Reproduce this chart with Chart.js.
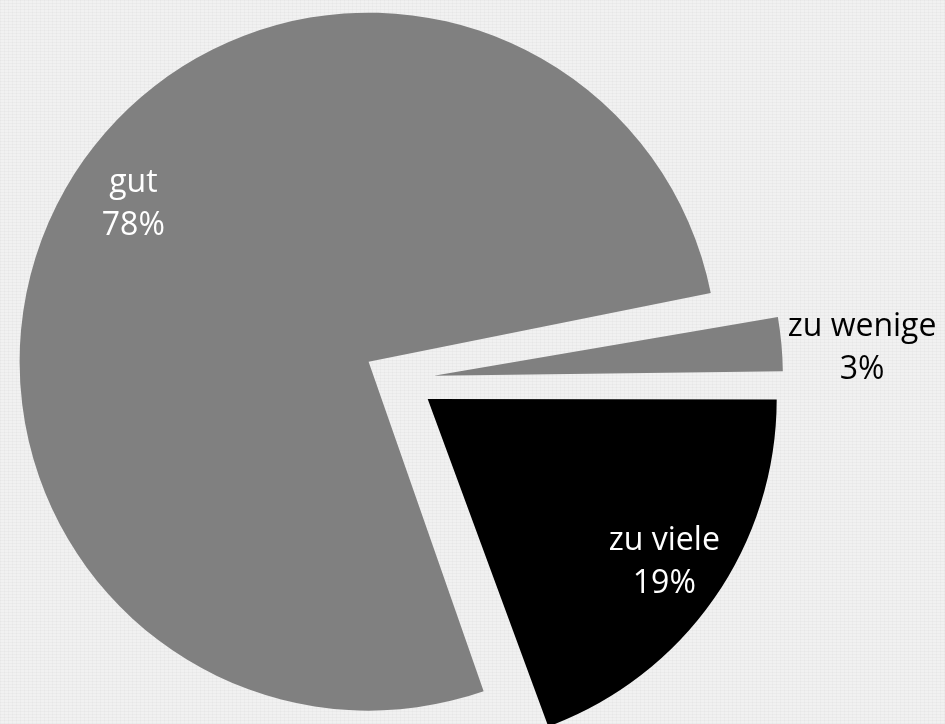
<!DOCTYPE html>
<html>
<head>
<meta charset="utf-8">
<script src="https://cdn.jsdelivr.net/npm/chart.js@4.4.1/dist/chart.umd.min.js"></script>
<style>
  html,body{margin:0;padding:0;}
  body{
    width:945px;height:724px;overflow:hidden;
    background-color:#f1f1f1;
    background-image:
      repeating-linear-gradient(0deg, rgba(0,0,0,0.025) 0 1px, transparent 1px 3px),
      repeating-linear-gradient(90deg, rgba(0,0,0,0.02) 0 1px, transparent 1px 4px);
  }
  #wrap{position:relative;width:945px;height:724px;}
</style>
</head>
<body>
<div id="wrap"><canvas id="pie"></canvas></div>
<script>
// data (share in %, labels are rounded)
const categories = ['zu viele', 'gut', 'zu wenige'];
const shares = [19.4, 77.7, 2.9];
const sliceColors = ['#000000', '#808080', '#808080'];
const labelColors = ['#ffffff', '#ffffff', '#000000'];

const pieRadius = 349;
const explode = 140; // chart.js v4 moves a slice by offset/4

// v4 also grows a slice's radius with its offset; undo that so all slices keep the same size
const explodeFix = {
  id: 'explodeFix',
  afterDatasetUpdate(chart, args){
    args.meta.data.forEach(arc => {
      const shift = (arc.options.offset || 0) / 4;
      const fix = 1 - Math.sin(Math.min(Math.PI, arc.circumference));
      arc.outerRadius = pieRadius - shift * fix;
    });
  }
};

// name + percent label on each slice
const sliceLabels = {
  id: 'sliceLabels',
  afterDatasetsDraw(chart, args, opts){
    const ctx = chart.ctx;
    const meta = chart.getDatasetMeta(0);
    const total = shares.reduce((a,b)=>a+b,0);
    ctx.save();
    ctx.font = '32px "Open Sans"';
    ctx.textAlign = 'center';
    ctx.textBaseline = 'alphabetic';
    meta.data.forEach((arc, i) => {
      const mid = (arc.startAngle + arc.endAngle) / 2;
      const shift = (arc.options.offset || 0) / 4;
      const ax = arc.x + Math.cos(mid) * shift, ay = arc.y + Math.sin(mid) * shift;
      const ang = mid + opts.turn[i] * Math.PI / 180;
      const d = pieRadius * opts.dist[i];
      const x = ax + Math.cos(ang) * d, y = ay + Math.sin(ang) * d;
      ctx.fillStyle = labelColors[i];
      ctx.fillText(categories[i], x, y - 10);
      ctx.fillText(Math.round(shares[i] / total * 100) + '%', x, y + 33);
    });
    ctx.restore();
  }
};

new Chart(document.getElementById('pie'), {
  type: 'pie',
  data: {
    labels: categories,
    datasets: [{ data: shares, backgroundColor: sliceColors, borderWidth: 0, offset: explode, hoverOffset: 0 }]
  },
  options: {
    responsive: true, maintainAspectRatio: false, animation: false,
    rotation: 90, radius: pieRadius,
    layout: { padding: { left: 0, right: 147, top: 34, bottom: 0 } },
    plugins: {
      legend: { display: false }, tooltip: { enabled: false },
      sliceLabels: { turn: [-0.7, 4.5, 1.2], dist: [0.82, 0.815, 1.23] }
    }
  },
  plugins: [explodeFix, sliceLabels]
});
</script>
</body>
</html>
